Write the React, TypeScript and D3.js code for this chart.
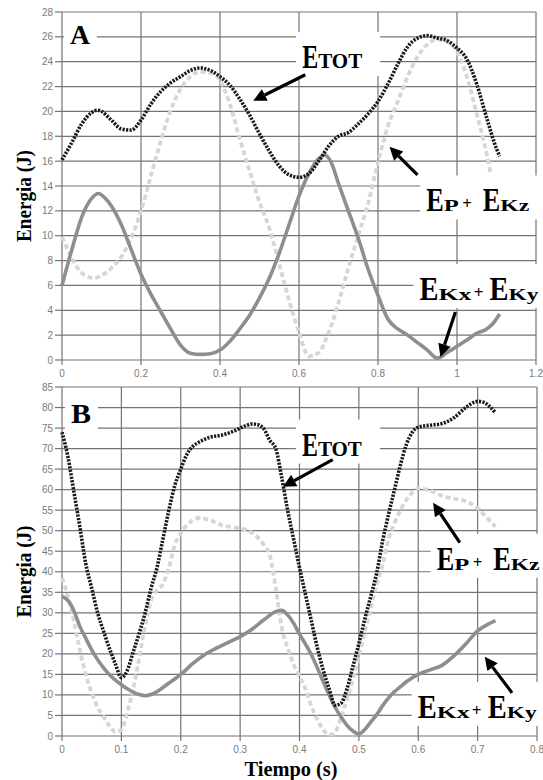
import React from 'react';
import * as d3 from 'd3';

// ---- Panel A (energies vs time) ----
const aTotT = [0, 0.025, 0.05, 0.075, 0.09, 0.1, 0.125, 0.15, 0.175, 0.2, 0.225, 0.25, 0.275, 0.3, 0.325, 0.35, 0.375, 0.4, 0.425, 0.45, 0.475, 0.5, 0.525, 0.55, 0.575, 0.6, 0.625, 0.65, 0.675, 0.7, 0.725, 0.75, 0.775, 0.8, 0.825, 0.85, 0.875, 0.9, 0.925, 0.95, 0.975, 1.0, 1.025, 1.05, 1.075, 1.1, 1.108];
const aTotE = [16.1, 17.5, 19.0, 19.9, 20.1, 20.0, 19.3, 18.6, 18.5, 19.3, 20.6, 21.6, 22.3, 22.8, 23.3, 23.5, 23.3, 22.8, 22.1, 21.0, 19.7, 18.2, 16.8, 15.6, 14.9, 14.7, 15.0, 16.0, 17.2, 18.0, 18.3, 19.0, 19.8, 20.8, 22.2, 23.8, 25.2, 25.9, 26.1, 25.9, 25.7, 25.1, 24.2, 22.2, 19.5, 17.0, 16.4];

const aPotT = [0, 0.025, 0.05, 0.08, 0.1, 0.125, 0.15, 0.175, 0.2, 0.225, 0.25, 0.275, 0.3, 0.325, 0.35, 0.375, 0.4, 0.425, 0.45, 0.475, 0.5, 0.525, 0.55, 0.575, 0.6, 0.625, 0.65, 0.675, 0.7, 0.725, 0.75, 0.775, 0.8, 0.825, 0.85, 0.875, 0.9, 0.925, 0.95, 0.975, 1.0, 1.025, 1.05, 1.075, 1.085];
const aPotE = [9.9, 8.2, 7.0, 6.6, 6.8, 7.4, 8.3, 9.8, 12.0, 14.8, 17.6, 20.1, 21.8, 22.8, 23.2, 23.1, 22.5, 20.6, 17.8, 15.2, 12.7, 10.6, 7.7, 4.8, 2.2, 0.3, 0.6, 2.2, 4.6, 7.4, 10.0, 12.6, 15.9, 18.8, 20.8, 22.8, 24.4, 25.4, 25.8, 25.6, 24.8, 22.8, 19.8, 16.6, 15.0];

const aKinT = [0, 0.025, 0.05, 0.075, 0.092, 0.11, 0.125, 0.15, 0.175, 0.2, 0.225, 0.25, 0.275, 0.3, 0.325, 0.35, 0.375, 0.4, 0.425, 0.45, 0.475, 0.5, 0.525, 0.55, 0.575, 0.6, 0.625, 0.65, 0.665, 0.68, 0.7, 0.725, 0.75, 0.775, 0.8, 0.825, 0.85, 0.875, 0.9, 0.925, 0.95, 0.975, 1.0, 1.025, 1.05, 1.075, 1.09, 1.108];
const aKinE = [6.0, 8.9, 11.5, 13.0, 13.4, 13.0, 12.4, 10.9, 8.9, 6.9, 5.3, 3.9, 2.5, 1.2, 0.55, 0.45, 0.5, 0.8, 1.5, 2.5, 3.6, 5.0, 6.6, 8.6, 10.9, 13.2, 15.0, 16.2, 16.5, 16.0, 14.2, 12.0, 9.8, 7.3, 5.2, 3.3, 2.5, 2.0, 1.4, 0.8, 0.15, 0.6, 1.1, 1.6, 2.15, 2.5, 2.9, 3.7];

const aTimeTicks = [0, 0.2, 0.4, 0.6, 0.8, 1, 1.2];
const aTimeLabels = ['0', '0.2', '0.4', '0.6', '0.8', '1', '1.2'];
const aEnergyTicks = [0, 2, 4, 6, 8, 10, 12, 14, 16, 18, 20, 22, 24, 26, 28];

// ---- Panel B ----
const bTotT = [0, 0.01, 0.02, 0.03, 0.04, 0.05, 0.06, 0.07, 0.08, 0.09, 0.1, 0.11, 0.12, 0.13, 0.14, 0.15, 0.16, 0.17, 0.18, 0.19, 0.2, 0.21, 0.22, 0.23, 0.25, 0.27, 0.29, 0.31, 0.32, 0.33, 0.34, 0.35, 0.36, 0.37, 0.38, 0.39, 0.4, 0.41, 0.42, 0.43, 0.44, 0.45, 0.46, 0.47, 0.48, 0.49, 0.5, 0.51, 0.52, 0.53, 0.54, 0.55, 0.56, 0.57, 0.58, 0.59, 0.6, 0.62, 0.64, 0.66, 0.68, 0.7, 0.71, 0.72, 0.73];
const bTotE = [74, 68, 59.5, 51, 42, 36, 30, 25.5, 21.3, 17.5, 14.2, 16, 20.5, 25, 30, 36, 41, 48, 55, 61, 65, 68.5, 70.5, 71.5, 72.8, 73.3, 74.3, 75.6, 76, 75.8, 74.8, 72, 70, 63, 55, 48, 41, 34.5, 28, 21.5, 16, 11.5, 7.5, 8, 11.5, 17, 22.5, 28.5, 34, 39.7, 47.5, 54, 60, 66, 71, 74, 75.2, 75.7, 76.1, 77.5, 80, 81.5, 81.3, 80.3, 78.7];

const bPotT = [0, 0.01, 0.02, 0.03, 0.04, 0.05, 0.06, 0.07, 0.08, 0.09, 0.1, 0.11, 0.12, 0.13, 0.14, 0.15, 0.16, 0.17, 0.18, 0.19, 0.2, 0.21, 0.22, 0.232, 0.25, 0.27, 0.29, 0.31, 0.33, 0.34, 0.35, 0.36, 0.37, 0.38, 0.39, 0.4, 0.41, 0.42, 0.43, 0.44, 0.45, 0.46, 0.47, 0.48, 0.49, 0.5, 0.51, 0.52, 0.53, 0.54, 0.55, 0.56, 0.57, 0.58, 0.59, 0.6, 0.62, 0.64, 0.66, 0.68, 0.69, 0.7, 0.71, 0.72, 0.73];
const bPotE = [38.5, 34, 28, 21, 15, 10.5, 7, 4.7, 2.5, 1.0, 1.5, 5.8, 11.5, 19, 27, 33, 35.5, 37, 41, 46.5, 49.4, 51.3, 52.6, 53.1, 52.5, 51.3, 50.8, 50.2, 48.3, 46.5, 44, 36, 26.5, 21.5, 17.5, 14.5, 11.5, 7.3, 4, 1.5, 0.3, 1, 4.5, 9, 14, 19.5, 25.5, 31, 37, 41.7, 48, 51.8, 55, 57.5, 59.3, 60.3, 59.8, 58.5, 57.8, 57.2, 56.5, 55.5, 54, 52.5, 51];

const bKinT = [0, 0.01, 0.02, 0.03, 0.04, 0.05, 0.06, 0.07, 0.08, 0.09, 0.1, 0.11, 0.12, 0.13, 0.14, 0.15, 0.16, 0.17, 0.18, 0.19, 0.2, 0.22, 0.24, 0.26, 0.28, 0.3, 0.32, 0.34, 0.36, 0.37, 0.38, 0.39, 0.4, 0.41, 0.42, 0.43, 0.44, 0.45, 0.46, 0.47, 0.48, 0.49, 0.5, 0.51, 0.52, 0.53, 0.54, 0.55, 0.56, 0.57, 0.58, 0.6, 0.62, 0.64, 0.66, 0.68, 0.7, 0.72, 0.73];
const bKinE = [34, 33, 30.5, 26.7, 23.8, 21, 18.6, 16.6, 14.9, 13.6, 12.5, 11.5, 10.7, 10.1, 9.8, 10.1, 10.8, 11.8, 12.9, 13.9, 15, 17.6, 19.8, 21.4, 22.8, 24.2, 26, 28.3, 30.3, 30.6, 29.5, 27.5, 24.8, 22.4, 19.8, 16.6, 13.2, 9.9, 7, 4.6, 2.6, 1.2, 0.5, 1.6, 3.4, 5.2, 7.4, 9.3, 10.8, 12, 13.2, 15, 16.1, 17.2, 19.5, 22.4, 25.6, 27.4, 28.1];

const bTimeTicks = [0, 0.1, 0.2, 0.3, 0.4, 0.5, 0.6, 0.7, 0.8];
const bTimeLabels = ['0', '0.1', '0.2', '0.3', '0.4', '0.5', '0.6', '0.7', '0.8'];
const bEnergyTicks = [0, 5, 10, 15, 20, 25, 30, 35, 40, 45, 50, 55, 60, 65, 70, 75, 80, 85];

// annotation anchors in data units: [label t, label E, arrow tail t, E, arrow tip t, E]
const aLabelPos = { tot: [0.608, 23.5, 0.616, 22.95, 0.484, 20.85], pot: [0.922, 11.95, 0.9, 14.9, 0.829, 17.15], kin: [0.905, 4.83, 0.996, 3.86, 0.958, 0.24], letter: [0.02, 25.4] };
const bLabelPos = { tot: [0.404, 68.3, 0.456, 67.3, 0.372, 60.7], pot: [0.631, 40.5, 0.67, 47.1, 0.625, 56.8], kin: [0.599, 4.4, 0.758, 10.5, 0.712, 19.3], letter: [0.015, 76.3] };

const SERIF = "'Liberation Serif', 'Times New Roman', 'DejaVu Serif', serif";
const SANS = "'Liberation Sans', Arial, sans-serif";
const GRID = '#747474';

type Piece = { text: string; dx: number; w: number; size: number; anchor?: 'middle' };

const totPieces: Piece[] = [
  { text: 'E', dx: 0, w: 16, size: 34 },
  { text: 'TOT', dx: 16, w: 44, size: 22 },
];
const potPieces: Piece[] = [
  { text: 'E', dx: 0, w: 17.5, size: 34 },
  { text: 'P', dx: 17.5, w: 15, size: 16 },
  { text: '+', dx: 41, w: 9, size: 17, anchor: 'middle' },
  { text: 'E', dx: 56.5, w: 17.5, size: 34 },
  { text: 'Kz', dx: 74, w: 29, size: 16 },
];
const kinPieces: Piece[] = [
  { text: 'E', dx: 0, w: 19, size: 34 },
  { text: 'Kx', dx: 19, w: 33, size: 17 },
  { text: '+', dx: 59, w: 9, size: 17, anchor: 'middle' },
  { text: 'E', dx: 70, w: 19, size: 34 },
  { text: 'Ky', dx: 89, w: 30, size: 17 },
];

function Label({ x, y, pieces }: { x: number; y: number; pieces: Piece[] }) {
  return (
    <g>
      {pieces.map((p, i) => (
        <text key={i} x={x + p.dx} y={p.text === '+' ? y - 2 : y} style={{ fontFamily: SERIF, fontWeight: 'bold', fontSize: p.size }}
          textAnchor={p.anchor ?? 'start'}
          textLength={p.anchor ? undefined : p.w} lengthAdjust="spacingAndGlyphs" fill="#000">
          {p.text}
        </text>
      ))}
    </g>
  );
}

function Arrow({ x1, y1, x2, y2 }: { x1: number; y1: number; x2: number; y2: number }) {
  const ang = Math.atan2(y2 - y1, x2 - x1);
  const head = 13, half = 6.5;
  const bx = x2 - head * Math.cos(ang), by = y2 - head * Math.sin(ang);
  const px = -Math.sin(ang) * half, py = Math.cos(ang) * half;
  return (
    <g>
      <line x1={x1} y1={y1} x2={bx} y2={by} stroke="#000" strokeWidth={3.2} />
      <polygon points={`${x2},${y2} ${bx + px},${by + py} ${bx - px},${by - py}`} fill="#000" />
    </g>
  );
}

type PanelProps = {
  xMax: number; yMax: number; top: number; bottom: number; right: number;
  timeTicks: number[]; timeLabels: string[]; energyTicks: number[];
  tot: [number[], number[]]; pot: [number[], number[]]; kin: [number[], number[]];
  pos: typeof aLabelPos; letter: string;
};

function Panel(p: PanelProps) {
  const left = 62;
  const x = d3.scaleLinear().domain([0, p.xMax]).range([left, p.right]);
  const y = d3.scaleLinear().domain([0, p.yMax]).range([p.bottom, p.top]);
  const line = d3.line<[number, number]>().x((d) => x(d[0])).y((d) => y(d[1])).curve(d3.curveMonotoneX);
  const pts = (s: [number[], number[]]) => s[0].map((t, i) => [t, s[1][i]] as [number, number]);

  const lab = (k: 'tot' | 'pot' | 'kin') => p.pos[k];
  const boxes = [
    { k: 'tot' as const, w: 78 },
    { k: 'pot' as const, w: 112 },
    { k: 'kin' as const, w: 124 },
  ];

  return (
    <g>
      {/* grid */}
      {p.energyTicks.map((t) => (
        <g key={'h' + t}>
          <line x1={left} x2={p.right} y1={y(t)} y2={y(t)} stroke={GRID} strokeWidth={1.2} />
          <line x1={left - 7} x2={left} y1={y(t)} y2={y(t)} stroke={GRID} strokeWidth={1.2} />
          <text x={left - 9} y={y(t) + 3.5} textAnchor="end" style={{ fontFamily: SANS, fontSize: 10 }} fill="#7a7a7a">{t}</text>
        </g>
      ))}
      {p.timeTicks.map((t, i) => (
        <g key={'v' + t}>
          <line x1={x(t)} x2={x(t)} y1={p.top} y2={p.bottom + 5} stroke={GRID} strokeWidth={1.2} />
          <text x={x(t)} y={p.bottom + 17} textAnchor="middle" style={{ fontFamily: SANS, fontSize: 10 }} fill="#7a7a7a">{p.timeLabels[i]}</text>
        </g>
      ))}

      {/* white boxes behind annotations */}
      <rect x={x(p.pos.letter[0]) - 6} y={y(p.pos.letter[1]) - 28} width={33} height={38} fill="#fff" />
      {boxes.map((b) => {
        const [lt, le] = lab(b.k);
        return <rect key={b.k} x={x(lt) - 6} y={y(le) - 36} width={b.w + 6} height={44} fill="#fff" />;
      })}

      {/* series */}
      <path d={line(pts(p.pot)) ?? ''} fill="none" stroke="#d6d6d6" strokeWidth={3.8} strokeDasharray="5 3" />
      <path d={line(pts(p.kin)) ?? ''} fill="none" stroke="#8e8e8e" strokeWidth={3.6} strokeLinejoin="round" />
      <path d={line(pts(p.tot)) ?? ''} fill="none" stroke="#1a1a1a" strokeWidth={3.6} strokeDasharray="2.2 1.3" />

      {/* annotations */}
      <text x={x(p.pos.letter[0])} y={y(p.pos.letter[1])} style={{ fontFamily: SERIF, fontWeight: 'bold', fontSize: 28 }}
        textLength={20} lengthAdjust="spacingAndGlyphs">{p.letter}</text>
      <Label x={x(lab('tot')[0])} y={y(lab('tot')[1])} pieces={totPieces} />
      <Label x={x(lab('pot')[0])} y={y(lab('pot')[1])} pieces={potPieces} />
      <Label x={x(lab('kin')[0])} y={y(lab('kin')[1])} pieces={kinPieces} />
      {(['tot', 'pot', 'kin'] as const).map((k) => {
        const a = lab(k);
        return <Arrow key={k} x1={x(a[2])} y1={y(a[3])} x2={x(a[4])} y2={y(a[5])} />;
      })}

      {/* y axis title */}
      <text transform={`translate(31,${(p.top + p.bottom) / 2 + 10}) rotate(-90)`} textAnchor="middle"
        style={{ fontFamily: SERIF, fontWeight: 'bold', fontSize: 21 }} textLength={92} lengthAdjust="spacingAndGlyphs">Energia (J)</text>
    </g>
  );
}

export default function App() {
  return (
    <div>
      <style>{'body{margin:0}'}</style>
      <svg width={543} height={780} style={{ display: 'block', background: '#fff' }}>
        <Panel xMax={1.2} yMax={28} top={12} bottom={360} right={536}
          timeTicks={aTimeTicks} timeLabels={aTimeLabels} energyTicks={aEnergyTicks}
          tot={[aTotT, aTotE]} pot={[aPotT, aPotE]} kin={[aKinT, aKinE]} pos={aLabelPos} letter="A" />
        <Panel xMax={0.8} yMax={85} top={387} bottom={736} right={537}
          timeTicks={bTimeTicks} timeLabels={bTimeLabels} energyTicks={bEnergyTicks}
          tot={[bTotT, bTotE]} pot={[bPotT, bPotE]} kin={[bKinT, bKinE]} pos={bLabelPos} letter="B" />
        <text x={291} y={776} textAnchor="middle" style={{ fontFamily: SERIF, fontWeight: 'bold', fontSize: 20 }}
          textLength={93} lengthAdjust="spacingAndGlyphs">Tiempo (s)</text>
      </svg>
    </div>
  );
}
